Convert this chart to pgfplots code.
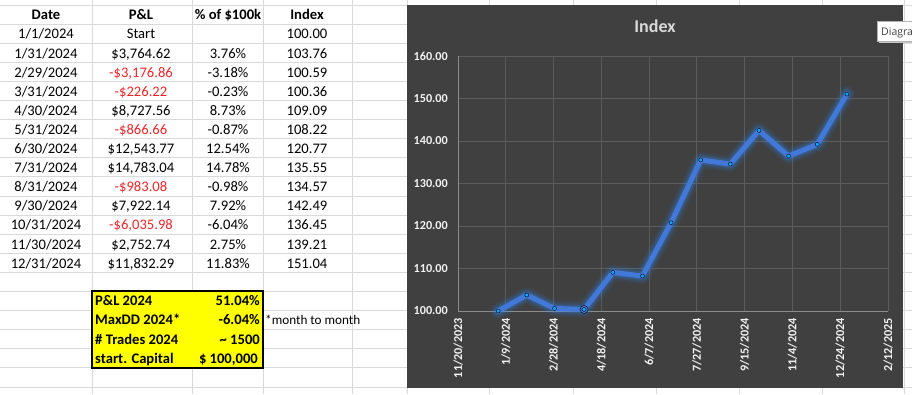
\documentclass[border=0pt]{standalone}
\usepackage{pgfplots}
\usepackage{pgfplotstable}
\pgfplotsset{compat=1.18}
\usepackage{fontspec}
\setmainfont{Carlito}
\newfontfamily\uifont{Open Sans}
\definecolor{sheetgrid}{HTML}{D9D9D9}
\definecolor{chartbg}{HTML}{404040}
\definecolor{cgrid}{HTML}{5C5C5C}
\definecolor{caxis}{HTML}{8C8C8C}
\definecolor{ctitle}{HTML}{D9D9D9}
\definecolor{ctick}{HTML}{F2F2F2}
\definecolor{negred}{HTML}{E8262A}
\definecolor{linecol}{HTML}{4278D8}
\definecolor{glowcol}{HTML}{2A8CFF}
\definecolor{markcol}{HTML}{1AA2FF}
\definecolor{hlyellow}{HTML}{FFFF00}

\pgfplotstableread{
day index
42 100.00
72 103.76
101 100.59
132 100.36
162 109.09
193 108.22
223 120.77
254 135.55
285 134.57
315 142.49
346 136.45
376 139.21
407 151.04
}\indexdata

\newcommand{\cellfont}{\fontsize{14.6}{16}\selectfont}
\newcommand{\negv}[1]{\textcolor{negred}{#1}}
\newcommand{\trow}[5]{%
  \node[anchor=base] at (46,{5+19.1*#1+14.8}) {#2};
  \node[anchor=base] at (141,{5+19.1*#1+14.8}) {#3};
  \node[anchor=base] at (228,{5+19.1*#1+14.8}) {#4};
  \node[anchor=base] at (307,{5+19.1*#1+14.8}) {#5};
}
\begin{document}
\begin{tikzpicture}
\begin{scope}[x=1pt,y=-1pt,every node/.style={inner sep=0pt},font=\cellfont]
\fill[white,use as bounding box] (0,0) rectangle (912,394);
\foreach \k in {0,...,20} \draw[sheetgrid,line width=1pt] (0,{5+19.1*\k}) -- (912,{5+19.1*\k});
\foreach \x in {92,192,263,352,407,489,573,656,739,822,904} \draw[sheetgrid,line width=1pt] (\x,0) -- (\x,394);
% header
\begin{scope}[font=\cellfont\bfseries]
\trow{0}{Date}{P\&L}{\% of \$100k}{Index}
\end{scope}
\trow{1}{1/1/2024}{Start}{}{100.00}
\trow{2}{1/31/2024}{\$3,764.62}{3.76\%}{103.76}
\trow{3}{2/29/2024}{\negv{-\$3,176.86}}{-3.18\%}{100.59}
\trow{4}{3/31/2024}{\negv{-\$226.22}}{-0.23\%}{100.36}
\trow{5}{4/30/2024}{\$8,727.56}{8.73\%}{109.09}
\trow{6}{5/31/2024}{\negv{-\$866.66}}{-0.87\%}{108.22}
\trow{7}{6/30/2024}{\$12,543.77}{12.54\%}{120.77}
\trow{8}{7/31/2024}{\$14,783.04}{14.78\%}{135.55}
\trow{9}{8/31/2024}{\negv{-\$983.08}}{-0.98\%}{134.57}
\trow{10}{9/30/2024}{\$7,922.14}{7.92\%}{142.49}
\trow{11}{10/31/2024}{\negv{-\$6,035.98}}{-6.04\%}{136.45}
\trow{12}{11/30/2024}{\$2,752.74}{2.75\%}{139.21}
\trow{13}{12/31/2024}{\$11,832.29}{11.83\%}{151.04}
% summary box
\draw[fill=hlyellow,line width=2pt] (92,291) rectangle (263,368);
\begin{scope}[font=\cellfont\bfseries]
\node[anchor=base west] at (95,305.8) {P\&L 2024};
\node[anchor=base east] at (260,305.8) {51.04\%};
\node[anchor=base west] at (95,324.9) {MaxDD 2024*};
\node[anchor=base east] at (260,324.9) {-6.04\%};
\node[anchor=base west] at (95,344) {\# Trades 2024};
\node[anchor=base east] at (260,344) {\textasciitilde{} 1500};
\node[anchor=base west] at (95,363.1) {start. Capital};
\node[anchor=base west] at (199,363.1) {\$};
\node[anchor=base east] at (258,363.1) {100,000};
\end{scope}
\node[anchor=base west,font=\fontsize{13.2}{15}\selectfont] at (265,324.9) {*month to month};
% chart area
\fill[chartbg] (407,5) rectangle (903,388);
\node[font=\fontsize{18}{18}\selectfont\bfseries,text=ctitle] at (655,26) {Index};
\begin{scope}
\clip (0,0) rectangle (912,394);
\fill[black!22] (878.5,22.5) rectangle (918,42.5);
\draw[fill=white,draw=black!30] (877,21) rectangle (916,41);
\node[anchor=base west,font=\uifont\fontsize{10.5}{12}\selectfont,text=black!75] at (881,35.5) {Diagra};
\end{scope}
\end{scope}
\begin{axis}[
  at={(458pt,-311pt)}, anchor=south west,
  scale only axis, width=430pt, height=255pt,
  xmin=0, xmax=450, ymin=100, ymax=160,
  xtick={0,50,...,450}, ytick={100,110,...,160},
  xticklabels={11/20/2023,1/9/2024,2/28/2024,4/18/2024,6/7/2024,7/27/2024,9/15/2024,11/4/2024,12/24/2024,2/12/2025},
  yticklabels={100.00,110.00,120.00,130.00,140.00,150.00,160.00},
  axis lines=left, axis line style={-, draw=caxis, line width=0.75pt},
  grid=major, major grid style={draw=cgrid, line width=1pt},
  major tick length=0pt,
  tick label style={font=\fontsize{12.2}{12}\selectfont\bfseries, text=ctick, inner sep=0pt},
  xticklabel style={rotate=90, anchor=east},
  xticklabel shift=7pt, yticklabel shift=10pt,
  clip=false,
]
\addplot[glowcol, opacity=0.07, line width=16pt, line join=round, line cap=round] table[x=day,y=index]{\indexdata};
\addplot[glowcol, opacity=0.12, line width=12pt, line join=round, line cap=round] table[x=day,y=index]{\indexdata};
\addplot[glowcol, opacity=0.2, line width=8.5pt, line join=round, line cap=round] table[x=day,y=index]{\indexdata};
\addplot[linecol, line width=5pt, line join=round, line cap=round] table[x=day,y=index]{\indexdata};
\addplot[only marks, mark=*, mark size=4pt, mark options={draw=none, fill=linecol}] coordinates {(132,100.36)};
\addplot[only marks, mark=*, mark size=2pt, mark options={draw=none, fill=markcol}] table[x=day,y=index]{\indexdata};
\end{axis}
\end{tikzpicture}
\end{document}
